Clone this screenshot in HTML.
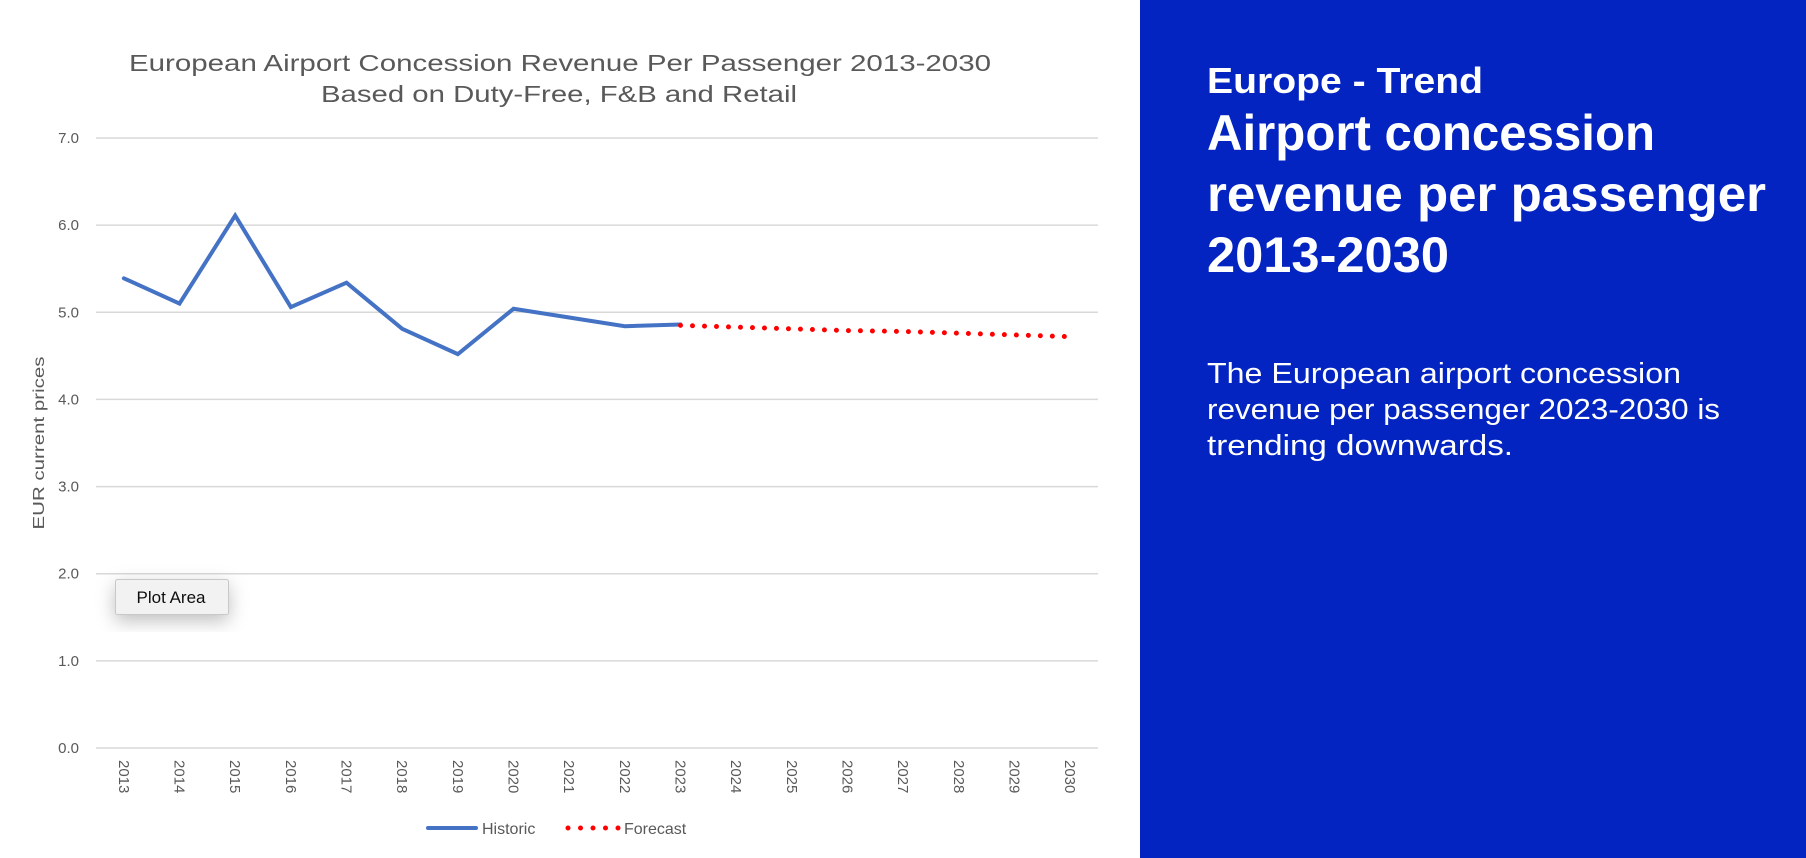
<!DOCTYPE html>
<html><head><meta charset="utf-8"><style>
html,body{margin:0;padding:0;background:#fff;}
svg{display:block;font-family:"Liberation Sans",sans-serif;}
</style></head><body>
<svg id="c" width="1806" height="858" viewBox="0 0 1806 858">
  <defs>
    <filter id="sh" x="-50%" y="-50%" width="200%" height="200%"><feDropShadow dx="0" dy="6" stdDeviation="9" flood-color="#000" flood-opacity="0.25"/></filter>
  </defs>
  <rect x="1140" y="0" width="666" height="858" fill="#0324c0"/>
  <g fill="#fff" font-weight="bold">
    <text x="1207" y="93" font-size="36" textLength="276" lengthAdjust="spacingAndGlyphs">Europe - Trend</text>
    <text x="1207" y="150" font-size="50" textLength="448" lengthAdjust="spacingAndGlyphs">Airport concession</text>
    <text x="1207" y="211" font-size="50" textLength="559" lengthAdjust="spacingAndGlyphs">revenue per passenger</text>
    <text x="1207" y="272" font-size="50" textLength="242" lengthAdjust="spacingAndGlyphs">2013-2030</text>
  </g>
  <g fill="#fff" font-size="29">
    <text x="1207" y="383" textLength="474" lengthAdjust="spacingAndGlyphs">The European airport concession</text>
    <text x="1207" y="419" textLength="513" lengthAdjust="spacingAndGlyphs">revenue per passenger 2023-2030 is</text>
    <text x="1207" y="455" textLength="306" lengthAdjust="spacingAndGlyphs">trending downwards.</text>
  </g>
  <g fill="#595959" font-size="23" text-anchor="middle">
    <text x="560" y="71" textLength="862" lengthAdjust="spacingAndGlyphs">European Airport Concession Revenue Per Passenger 2013-2030</text>
    <text x="559" y="102" textLength="476" lengthAdjust="spacingAndGlyphs">Based on Duty-Free, F&amp;B and Retail</text>
  </g>
  <text transform="translate(44,443) rotate(-90)" text-anchor="middle" font-size="16" fill="#595959" textLength="173" lengthAdjust="spacingAndGlyphs">EUR current prices</text>
  <g id="grid"></g>
  <g id="yt"></g>
  <g id="xt"></g>
  <g id="series"></g>
  <g>
    <g>
      <line x1="428" y1="828" x2="476" y2="828" stroke="#4472c4" stroke-width="4" stroke-linecap="round"/>
      <text x="482" y="834" font-size="16" fill="#595959">Historic</text>
    </g>
    <g>
      <line x1="568" y1="828" x2="620" y2="828" stroke="#ff0000" stroke-width="5" stroke-linecap="round" stroke-dasharray="0 12.5"/>
      <text x="624" y="834" font-size="16" fill="#595959">Forecast</text>
    </g>
  </g>
  <g filter="url(#sh)">
    <rect x="115.5" y="579.5" width="113" height="35" fill="#f2f2f2" stroke="#c8c8c8" rx="2"/>
    <text x="171" y="603" text-anchor="middle" font-size="17" fill="#111">Plot Area</text>
  </g>
</svg>
<script>
const years = ["2013","2014","2015","2016","2017","2018","2019","2020","2021","2022","2023","2024","2025","2026","2027","2028","2029","2030"];
const historic = [5.39,5.10,6.11,5.06,5.34,4.81,4.52,5.04,4.94,4.84,4.86];
const forecastYears = ["2023","2024","2025","2026","2027","2028","2029","2030"];
const forecast = [4.85,4.83,4.81,4.79,4.78,4.76,4.74,4.72];
const yTicks = [0,1,2,3,4,5,6,7];
const yTickLabels = ["0.0","1.0","2.0","3.0","4.0","5.0","6.0","7.0"];

const NS="http://www.w3.org/2000/svg";
const L=96,R=1098,T=138,B=748;
function y(v){return B-(v/7)*(B-T);}
function x(cat){const i=years.indexOf(cat);const bw=(R-L)/years.length;return L+bw*(i+0.5);}
function mk(tag,attrs,parent){const e=document.createElementNS(NS,tag);for(const k in attrs)e.setAttribute(k,attrs[k]);parent.appendChild(e);return e;}
const grid=document.getElementById('grid'),yt=document.getElementById('yt'),xt=document.getElementById('xt'),ser=document.getElementById('series');
yTicks.forEach((v,i)=>{
  const g=mk('line',{x1:L,x2:R,y1:y(v),y2:y(v),stroke:'#d9d9d9','stroke-width':1.5},grid);
  
  
  const t=mk('text',{x:79,y:y(v)+5,'text-anchor':'end','font-size':15,fill:'#595959'},yt);
  t.textContent=yTickLabels[i];
  
  
});
years.forEach(c=>{
  const t=mk('text',{transform:`translate(${x(c)-5},760) rotate(90)`,'font-size':15,fill:'#595959'},xt);
  t.textContent=c;
  
  
});
const hp=historic.map((v,i)=>`${x(years[i])},${y(v)}`).join(' ');
const h=mk('polyline',{points:hp,fill:'none',stroke:'#4472c4','stroke-width':4,'stroke-linejoin':'miter','stroke-linecap':'round'},ser);


const fp=forecast.map((v,i)=>`${x(forecastYears[i])},${y(v)}`).join(' ');
const f=mk('polyline',{points:fp,fill:'none',stroke:'#ff0000','stroke-width':5,'stroke-linecap':'round','stroke-dasharray':'0 12'},ser);


</script>
</body></html>
